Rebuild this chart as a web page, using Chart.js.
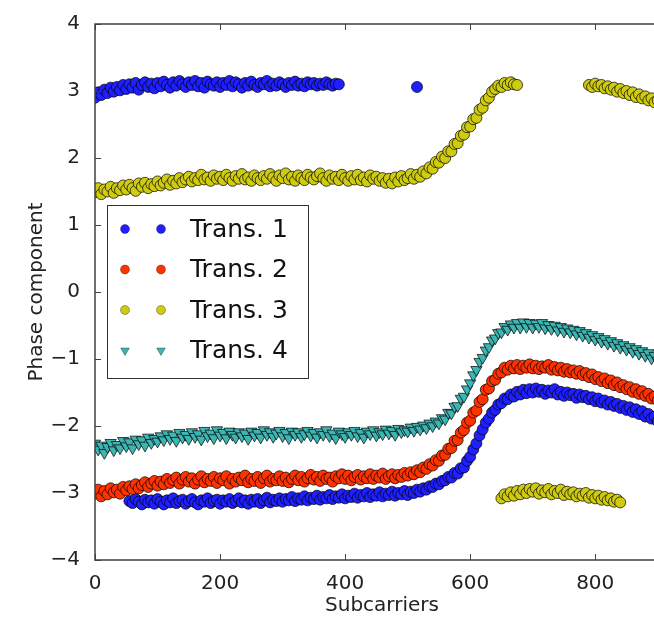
<!DOCTYPE html>
<html>
<head>
<meta charset="utf-8">
<script src="https://cdn.jsdelivr.net/npm/chart.js@4/dist/chart.umd.min.js"></script>
<style>
  html, body { margin: 0; padding: 0; overflow: hidden; background: #fff; }
  #wrap { width: 680px; height: 619px; }
</style>
</head>
<body>
<div id="wrap"><canvas id="phaseChart" width="680" height="619"></canvas></div>
<script>
// subcarrier index of every sample
const subcarriers = [
  0, 5, 10, 15, 20, 25, 30, 35, 40, 45,
  50, 55, 60, 65, 70, 75, 80, 85, 90, 95,
  100, 105, 110, 115, 120, 125, 130, 135, 140, 145,
  150, 155, 160, 165, 170, 175, 180, 185, 190, 195,
  200, 205, 210, 215, 220, 225, 230, 235, 240, 245,
  250, 255, 260, 265, 270, 275, 280, 285, 290, 295,
  300, 305, 310, 315, 320, 325, 330, 335, 340, 345,
  350, 355, 360, 365, 370, 375, 380, 385, 390, 395,
  400, 405, 410, 415, 420, 425, 430, 435, 440, 445,
  450, 455, 460, 465, 470, 475, 480, 485, 490, 495,
  500, 505, 510, 515, 520, 525, 530, 535, 540, 545,
  550, 555, 560, 565, 570, 575, 580, 585, 590, 595,
  600, 605, 610, 615, 620, 625, 630, 635, 640, 645,
  650, 655, 660, 665, 670, 675, 680, 685, 690, 695,
  700, 705, 710, 715, 720, 725, 730, 735, 740, 745,
  750, 755, 760, 765, 770, 775, 780, 785, 790, 795,
  800, 805, 810, 815, 820, 825, 830, 835, 840, 845,
  850, 855, 860, 865, 870, 875, 880, 885, 890, 895,
  900, 905, 910
];

// phase wraps around +/- pi, so trans. 1 and 3 come in two branches
const trans1Upper = [
  2.90, 2.98, 2.94, 3.02, 2.97, 3.05, 2.99, 3.06, 3.01, 3.09,
  3.03, 3.10, 3.05, 3.12, 3.02, 3.09, 3.13, 3.06, 3.11, 3.04,
  3.12, 3.07, 3.14, 3.09, 3.05, 3.13, 3.08, 3.15, 3.10, 3.06,
  3.13, 3.09, 3.15, 3.07, 3.12, 3.05, 3.14, 3.10, 3.08, 3.13,
  3.06, 3.12, 3.09, 3.15, 3.07, 3.13, 3.10, 3.05, 3.12, 3.08,
  3.14, 3.09, 3.06, 3.12, 3.10, 3.15, 3.07, 3.11, 3.08, 3.13,
  3.10, 3.06, 3.12, 3.09, 3.14, 3.08, 3.11, 3.07, 3.13, 3.10,
  3.12, 3.08, 3.11, 3.09, 3.13, 3.10, 3.08, 3.11, 3.10, null,
  null, null, null, null, null, null, null, null, null, null,
  null, null, null, null, null, null, null, null, null, null,
  null, null, null, 3.06, null, null, null, null, null, null,
  null, null, null, null, null, null, null, null, null, null,
  null, null, null, null, null, null, null, null, null, null,
  null, null, null, null, null, null, null, null, null, null,
  null, null, null, null, null, null, null, null, null, null,
  null, null, null, null, null, null, null, null, null, null,
  null, null, null, null, null, null, null, null, null, null,
  null, null, null, null, null, null, null, null, null, null,
  null, null, null
];
const trans1Lower = [
  null, null, null, null, null, null, null, null, null, null,
  null, -3.12, -3.15, -3.09, -3.13, -3.17, -3.10, -3.14, -3.11, -3.16,
  -3.09, -3.13, -3.17, -3.11, -3.14, -3.08, -3.15, -3.12, -3.10, -3.16,
  -3.12, -3.09, -3.14, -3.17, -3.11, -3.13, -3.08, -3.15, -3.12, -3.10,
  -3.16, -3.11, -3.13, -3.09, -3.15, -3.12, -3.08, -3.14, -3.11, -3.16,
  -3.10, -3.13, -3.09, -3.15, -3.11, -3.07, -3.14, -3.10, -3.12, -3.08,
  -3.13, -3.09, -3.11, -3.06, -3.12, -3.08, -3.10, -3.05, -3.11, -3.07,
  -3.09, -3.04, -3.10, -3.06, -3.08, -3.03, -3.09, -3.05, -3.07, -3.02,
  -3.08, -3.04, -3.06, -3.01, -3.07, -3.03, -3.05, -3.00, -3.06, -3.02,
  -3.04, -2.99, -3.05, -3.01, -3.03, -2.98, -3.04, -3.00, -3.02, -2.97,
  -3.03, -2.98, -3.00, -2.95, -2.98, -2.93, -2.95, -2.90, -2.91, -2.86,
  -2.87, -2.82, -2.81, -2.76, -2.77, -2.70, -2.71, -2.63, -2.62, -2.52,
  -2.46, -2.35, -2.26, -2.14, -2.05, -1.95, -1.89, -1.80, -1.76, -1.68,
  -1.66, -1.59, -1.60, -1.53, -1.56, -1.49, -1.53, -1.46, -1.51, -1.45,
  -1.50, -1.44, -1.49, -1.46, -1.52, -1.47, -1.50, -1.45, -1.53, -1.49,
  -1.55, -1.50, -1.54, -1.52, -1.58, -1.53, -1.57, -1.55, -1.60, -1.57,
  -1.63, -1.59, -1.65, -1.62, -1.68, -1.64, -1.70, -1.67, -1.73, -1.70,
  -1.76, -1.72, -1.79, -1.75, -1.82, -1.78, -1.86, -1.82, -1.89, -1.86,
  -1.93, -1.89, -1.96
];
const trans2 = [
  -3.01, -2.95, -3.05, -2.97, -3.02, -2.93, -2.99, -2.95, -3.01, -2.91,
  -2.96, -2.90, -2.94, -2.87, -2.93, -2.88, -2.84, -2.91, -2.86, -2.82,
  -2.89, -2.83, -2.87, -2.79, -2.85, -2.81, -2.77, -2.86, -2.80, -2.76,
  -2.83, -2.78, -2.86, -2.80, -2.75, -2.84, -2.79, -2.82, -2.76, -2.85,
  -2.78, -2.81, -2.75, -2.86, -2.79, -2.83, -2.77, -2.81, -2.74, -2.84,
  -2.79, -2.82, -2.76, -2.85, -2.78, -2.74, -2.83, -2.79, -2.81, -2.75,
  -2.82, -2.77, -2.84, -2.79, -2.74, -2.81, -2.76, -2.83, -2.78, -2.73,
  -2.80, -2.76, -2.82, -2.74, -2.79, -2.77, -2.83, -2.75, -2.78, -2.72,
  -2.79, -2.74, -2.81, -2.76, -2.73, -2.80, -2.75, -2.78, -2.72, -2.79,
  -2.74, -2.77, -2.71, -2.79, -2.75, -2.72, -2.78, -2.73, -2.76, -2.70,
  -2.74, -2.69, -2.72, -2.66, -2.69, -2.62, -2.64, -2.57, -2.59, -2.51,
  -2.52, -2.44, -2.43, -2.34, -2.33, -2.22, -2.21, -2.10, -2.06, -1.95,
  -1.92, -1.80, -1.77, -1.64, -1.60, -1.46, -1.44, -1.33, -1.31, -1.22,
  -1.20, -1.13, -1.16, -1.10, -1.14, -1.09, -1.15, -1.10, -1.13, -1.08,
  -1.14, -1.10, -1.15, -1.11, -1.13, -1.09, -1.16, -1.12, -1.17, -1.13,
  -1.19, -1.15, -1.20, -1.17, -1.22, -1.18, -1.24, -1.21, -1.27, -1.23,
  -1.30, -1.27, -1.33, -1.29, -1.36, -1.32, -1.39, -1.35, -1.42, -1.39,
  -1.45, -1.42, -1.49, -1.45, -1.52, -1.48, -1.55, -1.52, -1.59, -1.56,
  -1.62, -1.59, -1.66
];
const trans3Upper = [
  1.49, 1.55, 1.46, 1.53, 1.50, 1.57, 1.48, 1.55, 1.52, 1.59,
  1.53, 1.60, 1.55, 1.51, 1.62, 1.57, 1.63, 1.55, 1.61, 1.58,
  1.65, 1.59, 1.63, 1.68, 1.60, 1.66, 1.62, 1.70, 1.64, 1.68,
  1.72, 1.65, 1.70, 1.67, 1.75, 1.68, 1.71, 1.66, 1.74, 1.69,
  1.72, 1.67, 1.75, 1.70, 1.66, 1.73, 1.69, 1.76, 1.68, 1.71,
  1.66, 1.74, 1.70, 1.67, 1.73, 1.69, 1.76, 1.71, 1.66, 1.74,
  1.70, 1.77, 1.68, 1.72, 1.66, 1.74, 1.70, 1.67, 1.75, 1.71,
  1.68, 1.73, 1.77, 1.70, 1.66, 1.74, 1.69, 1.72, 1.67, 1.75,
  1.70, 1.66, 1.73, 1.68, 1.75, 1.67, 1.71, 1.65, 1.74, 1.69,
  1.72, 1.66, 1.70, 1.63, 1.69, 1.62, 1.71, 1.65, 1.73, 1.67,
  1.70, 1.76, 1.69, 1.75, 1.72, 1.80, 1.77, 1.86, 1.84, 1.94,
  1.93, 2.02, 2.00, 2.10, 2.10, 2.21, 2.22, 2.33, 2.35, 2.46,
  2.47, 2.58, 2.60, 2.72, 2.75, 2.86, 2.90, 2.99, 3.03, 3.08,
  3.06, 3.12, 3.09, 3.13, 3.10, 3.09, null, null, null, null,
  null, null, null, null, null, null, null, null, null, null,
  null, null, null, null, null, null, null, null, 3.09, 3.06,
  3.11, 3.07, 3.09, 3.04, 3.07, 3.02, 3.05, 2.99, 3.03, 2.97,
  3.00, 2.94, 2.98, 2.91, 2.95, 2.89, 2.92, 2.86, 2.89, 2.83,
  2.86, 2.80, 2.83
];
const trans3Lower = [
  null, null, null, null, null, null, null, null, null, null,
  null, null, null, null, null, null, null, null, null, null,
  null, null, null, null, null, null, null, null, null, null,
  null, null, null, null, null, null, null, null, null, null,
  null, null, null, null, null, null, null, null, null, null,
  null, null, null, null, null, null, null, null, null, null,
  null, null, null, null, null, null, null, null, null, null,
  null, null, null, null, null, null, null, null, null, null,
  null, null, null, null, null, null, null, null, null, null,
  null, null, null, null, null, null, null, null, null, null,
  null, null, null, null, null, null, null, null, null, null,
  null, null, null, null, null, null, null, null, null, null,
  null, null, null, null, null, null, null, null, null, null,
  -3.08, -3.02, -3.05, -2.99, -3.04, -2.97, -3.02, -2.95, -3.00, -2.94,
  -2.98, -2.93, -3.01, -2.96, -2.99, -2.94, -3.02, -2.97, -3.00, -2.95,
  -3.03, -2.98, -3.02, -2.99, -3.05, -3.01, -3.04, -3.00, -3.07, -3.03,
  -3.08, -3.04, -3.10, -3.06, -3.11, -3.08, -3.13, -3.10, -3.14, null,
  null, null, null, null, null, null, null, null, null, null,
  null, null, null
];
const trans4 = [
  -2.26, -2.35, -2.29, -2.40, -2.31, -2.25, -2.36, -2.28, -2.33, -2.22,
  -2.30, -2.24, -2.33, -2.20, -2.27, -2.21, -2.29, -2.17, -2.25, -2.19,
  -2.23, -2.15, -2.21, -2.12, -2.19, -2.14, -2.22, -2.10, -2.17, -2.13,
  -2.19, -2.09, -2.16, -2.12, -2.20, -2.07, -2.15, -2.11, -2.18, -2.06,
  -2.14, -2.10, -2.18, -2.08, -2.13, -2.17, -2.09, -2.15, -2.11, -2.19,
  -2.08, -2.14, -2.10, -2.17, -2.06, -2.13, -2.09, -2.16, -2.11, -2.07,
  -2.15, -2.10, -2.18, -2.08, -2.13, -2.09, -2.16, -2.12, -2.07, -2.14,
  -2.10, -2.17, -2.09, -2.13, -2.06, -2.15, -2.11, -2.18, -2.08, -2.12,
  -2.16, -2.09, -2.13, -2.07, -2.15, -2.10, -2.17, -2.08, -2.12, -2.06,
  -2.14, -2.09, -2.12, -2.05, -2.11, -2.07, -2.13, -2.04, -2.09, -2.06,
  -2.08, -2.02, -2.07, -2.01, -2.05, -1.99, -2.03, -1.96, -2.00, -1.93,
  -1.96, -1.88, -1.90, -1.80, -1.81, -1.71, -1.70, -1.59, -1.56, -1.45,
  -1.36, -1.24, -1.16, -1.04, -0.98, -0.87, -0.82, -0.72, -0.69, -0.61,
  -0.60, -0.52, -0.56, -0.48, -0.53, -0.46, -0.53, -0.45, -0.52, -0.46,
  -0.53, -0.47, -0.52, -0.46, -0.54, -0.49, -0.55, -0.50, -0.57, -0.52,
  -0.59, -0.54, -0.60, -0.56, -0.63, -0.58, -0.65, -0.61, -0.68, -0.64,
  -0.71, -0.67, -0.74, -0.70, -0.77, -0.73, -0.80, -0.76, -0.83, -0.79,
  -0.86, -0.82, -0.89, -0.85, -0.92, -0.88, -0.95, -0.91, -0.99, -0.95,
  -1.02, -0.98, -1.05
];

const seriesLabels = ['Trans. 1', 'Trans. 2', 'Trans. 3', 'Trans. 4'];
const yTicks = [-4, -3, -2, -1, 0, 1, 2, 3, 4];
const xTickStep = 200;

const FONT = '"DejaVu Sans", "Liberation Sans", sans-serif';
const EDGE = 'rgba(0,0,0,0.7)';

function toPoints(...branches) {
  const pts = [];
  branches.forEach(values => {
    values.forEach((v, i) => {
      if (v !== null) pts.push({ x: subcarriers[i], y: v });
    });
  });
  return pts;
}

function markerSet(label, color, style, radius, order, data) {
  return {
    label,
    data,
    order,
    pointStyle: style,
    rotation: style === 'triangle' ? 180 : 0,
    pointRadius: radius,
    pointBackgroundColor: color,
    backgroundColor: color,
    pointBorderColor: EDGE,
    borderColor: EDGE,
    pointBorderWidth: 1,
    showLine: false
  };
}

// matplotlib-like frame: spines plus inward tick marks
const frameTicks = {
  id: 'frameTicks',
  afterDatasetsDraw(chart) {
    const { ctx, chartArea: a, scales } = chart;
    ctx.save();
    ctx.strokeStyle = '#404040';
    ctx.lineWidth = 1.5;
    ctx.strokeRect(a.left, a.top, a.right - a.left, a.bottom - a.top);
    ctx.lineWidth = 1;
    ctx.beginPath();
    scales.x.ticks.forEach(t => {
      if (t.value % xTickStep !== 0) return;
      const px = Math.round(scales.x.getPixelForValue(t.value)) + 0.5;
      ctx.moveTo(px, a.bottom); ctx.lineTo(px, a.bottom - 6);
      ctx.moveTo(px, a.top); ctx.lineTo(px, a.top + 6);
    });
    yTicks.forEach(v => {
      const py = Math.round(scales.y.getPixelForValue(v)) + 0.5;
      ctx.moveTo(a.left, py); ctx.lineTo(a.left + 6, py);
      ctx.moveTo(a.right, py); ctx.lineTo(a.right - 6, py);
    });
    ctx.stroke();
    ctx.restore();
  }
};

// boxed legend with two sample markers per entry
const pairedLegend = {
  id: 'pairedLegend',
  afterDraw(chart) {
    const { ctx, chartArea: a } = chart;
    const left = a.left + 12, top = a.top + 181, w = 201, h = 173;
    ctx.save();
    ctx.fillStyle = '#fff';
    ctx.fillRect(left, top, w, h);
    ctx.strokeStyle = '#333';
    ctx.lineWidth = 1;
    ctx.strokeRect(left + 0.5, top + 0.5, w, h);
    const sorted = chart.data.datasets.slice().sort((p, q) => q.order - p.order);
    sorted.forEach((ds, i) => {
      const cy = top + 24 + i * 40.5;
      const r = ds.pointStyle === 'triangle' ? 5 : 4.5;
      [left + 18, left + 54].forEach(cx => {
        ctx.fillStyle = ds.pointBackgroundColor;
        ctx.strokeStyle = 'rgba(0,0,0,0.4)';
        ctx.lineWidth = 0.8;
        Chart.helpers.drawPoint(ctx, {
          pointStyle: ds.pointStyle, rotation: ds.rotation, radius: r, borderWidth: 0.8
        }, cx, cy);
      });
      ctx.fillStyle = '#111';
      ctx.font = '25px ' + FONT;
      ctx.textBaseline = 'middle';
      ctx.textAlign = 'left';
      ctx.fillText(ds.label, left + 83, cy + 1);
    });
    ctx.restore();
  }
};

const tickFont = { family: FONT, size: 20 };

new Chart(document.getElementById('phaseChart'), {
  type: 'scatter',
  data: {
    datasets: [
      markerSet(seriesLabels[0], '#1f1fff', 'circle', 5.5, 4, toPoints(trans1Upper, trans1Lower)),
      markerSet(seriesLabels[1], '#ff3300', 'circle', 5.5, 3, toPoints(trans2)),
      markerSet(seriesLabels[2], '#cfcb10', 'circle', 5.5, 2, toPoints(trans3Upper, trans3Lower)),
      markerSet(seriesLabels[3], '#3cb6b2', 'triangle', 6.5, 1, toPoints(trans4))
    ]
  },
  options: {
    responsive: false,
    animation: false,
    devicePixelRatio: 1,
    layout: { padding: { top: 24, right: 11, left: 0, bottom: 0 } },
    plugins: { legend: { display: false }, tooltip: { enabled: false } },
    scales: {
      x: {
        type: 'linear',
        min: 0,
        max: 918,
        afterFit: s => { s.height = 59; },
        grid: { display: false },
        border: { display: false },
        ticks: {
          stepSize: xTickStep,
          padding: 4,
          maxRotation: 0,
          color: '#222',
          font: tickFont,
          callback: v => (v % xTickStep === 0 ? String(v) : '')
        },
        title: {
          display: true,
          text: 'Subcarriers',
          color: '#222',
          font: tickFont,
          padding: { top: 0, bottom: 1 }
        }
      },
      y: {
        min: -4,
        max: 4,
        afterFit: s => { s.width = 95; },
        grid: { display: false },
        border: { display: false },
        ticks: {
          stepSize: 1,
          padding: 7,
          color: '#222',
          font: tickFont,
          callback: v => String(v).replace('-', '\u2212')
        },
        title: {
          display: true,
          text: 'Phase component',
          color: '#222',
          font: tickFont,
          padding: { top: 25, bottom: 0 }
        }
      }
    }
  },
  plugins: [frameTicks, pairedLegend]
});
</script>
</body>
</html>
